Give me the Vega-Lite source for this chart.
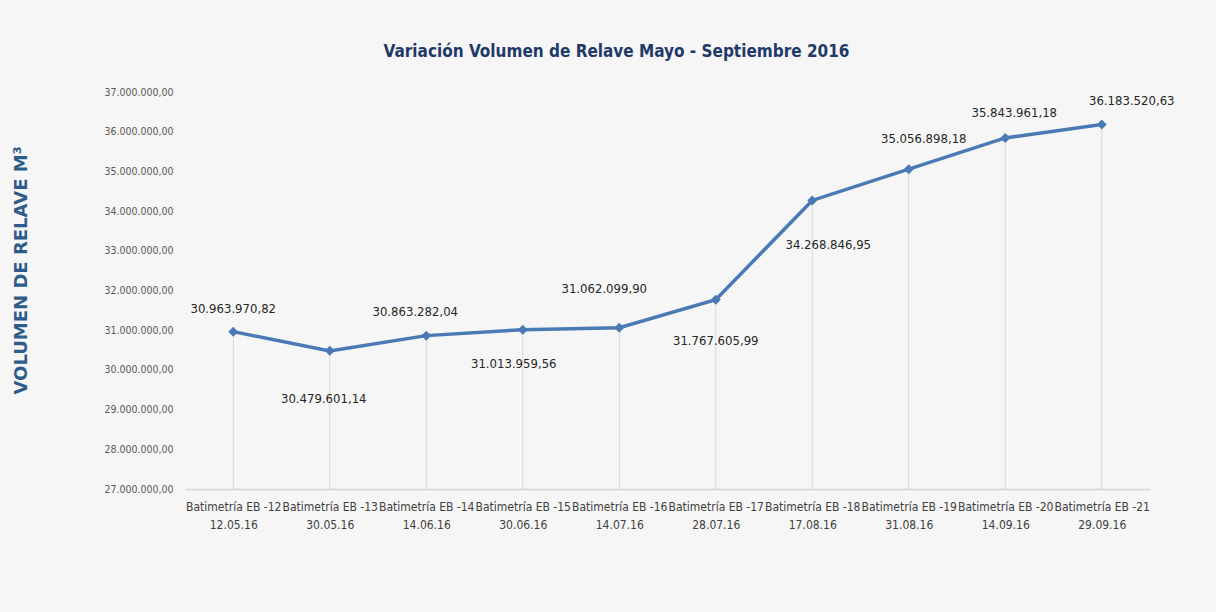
{
  "$schema": "https://vega.github.io/schema/vega-lite/v6.json",
  "autosize": "none",
  "width": 965,
  "height": 397,
  "padding": {"left": 185, "top": 92, "right": 66, "bottom": 123},
  "background": "#f6f6f6",
  "title": {
    "text": "Variación Volumen de Relave Mayo - Septiembre 2016",
    "font": "DejaVu Sans Condensed",
    "fontWeight": "bold",
    "fontSize": 17,
    "color": "#1f3a68",
    "anchor": "middle",
    "dx": -51,
    "offset": 26
  },
  "config": {
    "locale": {"number": {"decimal": ",", "thousands": ".", "grouping": [3], "currency": ["", ""]}},
    "view": {"stroke": null},
    "text": {"font": "DejaVu Sans Condensed", "fontSize": 13, "color": "#262626", "baseline": "middle"}
  },
  "data": {
    "values": [
      {"etiqueta": "Batimetría EB -12\n12.05.16", "fecha": "12.05.16", "volumen": 30963970.82},
      {"etiqueta": "Batimetría EB -13\n30.05.16", "fecha": "30.05.16", "volumen": 30479601.14},
      {"etiqueta": "Batimetría EB -14\n14.06.16", "fecha": "14.06.16", "volumen": 30863282.04},
      {"etiqueta": "Batimetría EB -15\n30.06.16", "fecha": "30.06.16", "volumen": 31013959.56},
      {"etiqueta": "Batimetría EB -16\n14.07.16", "fecha": "14.07.16", "volumen": 31062099.90},
      {"etiqueta": "Batimetría EB -17\n28.07.16", "fecha": "28.07.16", "volumen": 31767605.99},
      {"etiqueta": "Batimetría EB -18\n17.08.16", "fecha": "17.08.16", "volumen": 34268846.95},
      {"etiqueta": "Batimetría EB -19\n31.08.16", "fecha": "31.08.16", "volumen": 35056898.18},
      {"etiqueta": "Batimetría EB -20\n14.09.16", "fecha": "14.09.16", "volumen": 35843961.18},
      {"etiqueta": "Batimetría EB -21\n29.09.16", "fecha": "29.09.16", "volumen": 36183520.63}
    ]
  },
  "encoding": {
    "x": {
      "field": "etiqueta",
      "type": "nominal",
      "sort": null,
      "scale": {"type": "point", "padding": 0.5},
      "axis": {
        "title": null,
        "labelAngle": 0,
        "labelExpr": "split(datum.value, '\\n')",
        "labelFont": "DejaVu Sans Condensed",
        "labelFontSize": 12,
        "labelColor": "#404040",
        "labelLineHeight": 18,
        "labelPadding": 12,
        "ticks": false,
        "domainColor": "#d4d4d4",
        "domainWidth": 1.5,
        "grid": false
      }
    },
    "y": {
      "field": "volumen",
      "type": "quantitative",
      "scale": {"domain": [27000000, 37000000], "nice": false, "zero": false},
      "axis": {
        "title": "VOLUMEN DE RELAVE M³",
        "titleFont": "DejaVu Sans",
        "titleFontWeight": "bold",
        "titleFontSize": 18,
        "titleColor": "#2e5c8a",
        "titleX": -155,
        "titleY": 178,
        "values": [27000000, 28000000, 29000000, 30000000, 31000000, 32000000, 33000000, 34000000, 35000000, 36000000, 37000000],
        "format": ",.2f",
        "labelFont": "DejaVu Sans Condensed",
        "labelFontSize": 10.5,
        "labelColor": "#595959",
        "labelPadding": 12,
        "ticks": false,
        "domain": false,
        "grid": false
      }
    }
  },
  "layer": [
    {
      "mark": {"type": "rule", "color": "#d9d9d9", "strokeWidth": 1},
      "encoding": {"y2": {"datum": 27000000}}
    },
    {
      "mark": {"type": "line", "color": "#4a7ab5", "strokeWidth": 3.5}
    },
    {
      "mark": {"type": "point", "shape": "diamond", "filled": true, "size": 100, "color": "#4a7ab5", "opacity": 1}
    },
    {"transform": [{"filter": "datum.fecha == '12.05.16'"}], "mark": {"type": "text", "dx": 0, "dy": -23}, "encoding": {"text": {"field": "volumen", "type": "quantitative", "format": ",.2f"}}},
    {"transform": [{"filter": "datum.fecha == '30.05.16'"}], "mark": {"type": "text", "dx": -6, "dy": 48}, "encoding": {"text": {"field": "volumen", "type": "quantitative", "format": ",.2f"}}},
    {"transform": [{"filter": "datum.fecha == '14.06.16'"}], "mark": {"type": "text", "dx": -11, "dy": -24}, "encoding": {"text": {"field": "volumen", "type": "quantitative", "format": ",.2f"}}},
    {"transform": [{"filter": "datum.fecha == '30.06.16'"}], "mark": {"type": "text", "dx": -9, "dy": 34}, "encoding": {"text": {"field": "volumen", "type": "quantitative", "format": ",.2f"}}},
    {"transform": [{"filter": "datum.fecha == '14.07.16'"}], "mark": {"type": "text", "dx": -15, "dy": -39}, "encoding": {"text": {"field": "volumen", "type": "quantitative", "format": ",.2f"}}},
    {"transform": [{"filter": "datum.fecha == '28.07.16'"}], "mark": {"type": "text", "dx": 0, "dy": 41}, "encoding": {"text": {"field": "volumen", "type": "quantitative", "format": ",.2f"}}},
    {"transform": [{"filter": "datum.fecha == '17.08.16'"}], "mark": {"type": "text", "dx": 16, "dy": 45}, "encoding": {"text": {"field": "volumen", "type": "quantitative", "format": ",.2f"}}},
    {"transform": [{"filter": "datum.fecha == '31.08.16'"}], "mark": {"type": "text", "dx": 15, "dy": -30}, "encoding": {"text": {"field": "volumen", "type": "quantitative", "format": ",.2f"}}},
    {"transform": [{"filter": "datum.fecha == '14.09.16'"}], "mark": {"type": "text", "dx": 9, "dy": -25}, "encoding": {"text": {"field": "volumen", "type": "quantitative", "format": ",.2f"}}},
    {"transform": [{"filter": "datum.fecha == '29.09.16'"}], "mark": {"type": "text", "dx": 30, "dy": -23}, "encoding": {"text": {"field": "volumen", "type": "quantitative", "format": ",.2f"}}}
  ]
}
